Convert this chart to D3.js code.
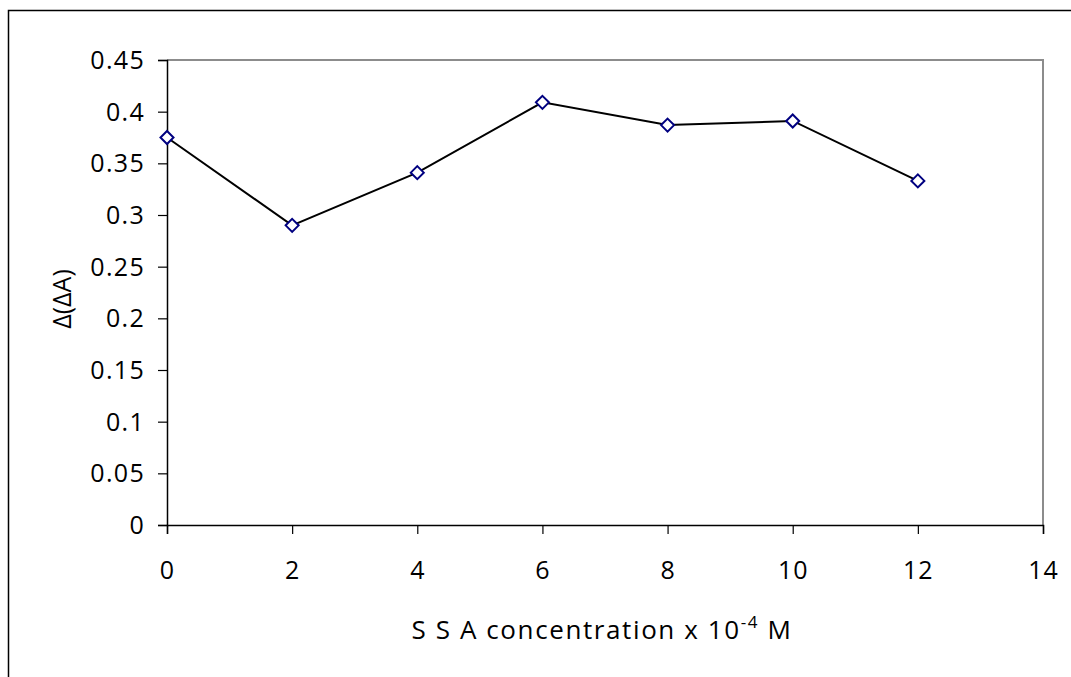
<!DOCTYPE html>
<html>
<head>
<meta charset="utf-8">
<script src="https://cdn.jsdelivr.net/npm/d3@7"></script>
<style>
  html, body { margin: 0; padding: 0; background: #fff; }
  svg { display: block; }
  text { font-family: "Open Sans", "Noto Sans", sans-serif; fill: #000; }
</style>
</head>
<body>
<svg id="chart" width="1071" height="677"></svg>
<script>
const concentration = [0, 2, 4, 6, 8, 10, 12];
const deltaDeltaA = [0.375, 0.290, 0.341, 0.409, 0.387, 0.391, 0.333];
const xTicks = [0, 2, 4, 6, 8, 10, 12, 14];
const yTicks = [0, 0.05, 0.1, 0.15, 0.2, 0.25, 0.3, 0.35, 0.4, 0.45];
const yTickLabels = ["0", "0.05", "0.1", "0.15", "0.2", "0.25", "0.3", "0.35", "0.4", "0.45"];

const svg = d3.select("#chart");
const W = 1071, H = 677;
const plot = { left: 167, top: 60, right: 1043, bottom: 525 };

// outer chart border
svg.append("rect")
  .attr("x", 8.5).attr("y", 10.5)
  .attr("width", W + 10).attr("height", H + 10)
  .attr("fill", "#fff").attr("stroke", "#000").attr("stroke-width", 1.5);

const x = d3.scaleLinear().domain([0, 14]).range([plot.left, plot.right]);
const y = d3.scaleLinear().domain([0, 0.45]).range([plot.bottom, plot.top]);

// plot area top and right borders (gray)
svg.append("path")
  .attr("d", `M${plot.left},${plot.top}H${plot.right}V${plot.bottom}`)
  .attr("fill", "none").attr("stroke", "#8c8c8c").attr("stroke-width", 2);

// Y axis
const yAxis = svg.append("g")
  .attr("transform", `translate(${plot.left},0)`)
  .call(d3.axisLeft(y).tickValues(yTicks).tickSize(9).tickPadding(13)
    .tickFormat((d, i) => yTickLabels[i]));
yAxis.select(".domain").attr("stroke", "#000").attr("stroke-width", 1.5);
yAxis.selectAll(".tick line").attr("stroke", "#000").attr("stroke-width", 1.2);
yAxis.selectAll(".tick text")
  .style("font-size", "25px").style("font-family", '"Open Sans", sans-serif')
  .attr("letter-spacing", "1.3px").attr("dy", "0.34em");

// X axis
const xAxis = svg.append("g")
  .attr("transform", `translate(0,${plot.bottom})`)
  .call(d3.axisBottom(x).tickValues(xTicks).tickSize(9).tickPadding(27)
    .tickFormat(d3.format("d")));
xAxis.select(".domain").attr("stroke", "#000").attr("stroke-width", 1.5);
xAxis.selectAll(".tick line").attr("stroke", "#000").attr("stroke-width", 1.2);
xAxis.selectAll(".tick text")
  .style("font-size", "25px").style("font-family", '"Open Sans", sans-serif')
  .attr("letter-spacing", "1px");

// line
const line = d3.line().x((d, i) => x(concentration[i])).y(d => y(d));
svg.append("path")
  .datum(deltaDeltaA)
  .attr("d", line)
  .attr("fill", "none").attr("stroke", "#000").attr("stroke-width", 2);

// diamond markers
const s = 6.5;
svg.selectAll(".marker")
  .data(deltaDeltaA)
  .enter().append("path")
  .attr("class", "marker")
  .attr("d", (d, i) => {
    const cx = x(concentration[i]), cy = y(d);
    return `M${cx},${cy - s}L${cx + s},${cy}L${cx},${cy + s}L${cx - s},${cy}Z`;
  })
  .attr("fill", "#fff").attr("stroke", "#000080").attr("stroke-width", 2);

// axis titles
const xt = svg.append("text")
  .attr("x", 602).attr("y", 639)
  .attr("text-anchor", "middle")
  .style("font-size", "26px")
  .attr("letter-spacing", "1.6px");
xt.append("tspan").text("S S A concentration x 10");
xt.append("tspan").attr("dy", -11).style("font-size", "17px").text("-4");
xt.append("tspan").attr("dy", 11).text(" M");

svg.append("text")
  .attr("transform", "translate(71,299) rotate(-90)")
  .attr("text-anchor", "middle")
  .style("font-size", "25px")
  .text("Δ(ΔA)");
</script>
</body>
</html>
